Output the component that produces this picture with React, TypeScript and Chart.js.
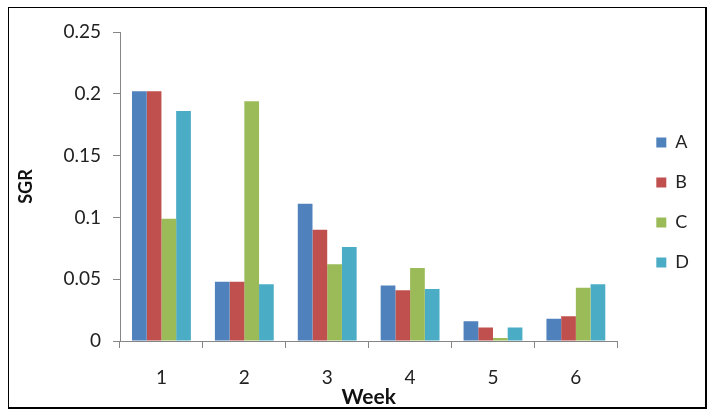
import React, { useEffect, useRef } from "react";
import { Chart, registerables } from "chart.js";

Chart.register(...registerables);

const weeks = ["1", "2", "3", "4", "5", "6"];
const seriesNames = ["A", "B", "C", "D"];
const seriesA = [0.202, 0.048, 0.111, 0.045, 0.016, 0.018];
const seriesB = [0.202, 0.048, 0.09, 0.041, 0.011, 0.02];
const seriesC = [0.099, 0.194, 0.062, 0.059, 0.0025, 0.043];
const seriesD = [0.186, 0.046, 0.076, 0.042, 0.011, 0.046];
const seriesColors = ["#4F81BD", "#C0504D", "#9BBB59", "#4BACC6"];
const yMin = 0;
const yMax = 0.25;
const yStep = 0.05;
const xTitle = "Week";
const yTitle = "SGR";

const FONT = "Lato, 'Open Sans', sans-serif";
const TEXT = "#222";
const AXIS = "#868686";

const legendShift = {
  id: "legendShift",
  afterLayout(chart: any) {
    const l = chart.legend;
    if (!l) return;
    const dx = 17;
    const dy = 16;
    l.left += dx;
    l.right += dx;
    l.top += dy;
    l.bottom += dy;
  },
};

export default function App() {
  const canvasRef = useRef<HTMLCanvasElement | null>(null);

  useEffect(() => {
    if (!canvasRef.current) return;
    const values = [seriesA, seriesB, seriesC, seriesD];
    const chart = new Chart(canvasRef.current, {
      type: "bar",
      data: {
        labels: weeks,
        datasets: seriesNames.map((name, i) => ({
          label: name,
          data: values[i],
          backgroundColor: seriesColors[i],
          borderWidth: 0,
          barPercentage: 1,
          categoryPercentage: 0.71,
        })),
      },
      options: {
        animation: false,
        responsive: true,
        maintainAspectRatio: false,
        layout: { padding: { top: 32, right: 37, bottom: 0, left: 0 } },
        plugins: {
          tooltip: { enabled: false },
          legend: {
            position: "right",
            fullSize: false,
            labels: {
              boxWidth: 10,
              boxHeight: 10,
              padding: 22,
              color: TEXT,
              font: { family: FONT, size: 18 },
            },
          },
        },
        scales: {
          x: {
            grid: {
              display: true,
              drawOnChartArea: false,
              drawTicks: true,
              tickLength: 7,
              color: AXIS,
              offset: true,
            },
            border: { display: true, color: AXIS, width: 1 },
            ticks: {
              color: TEXT,
              padding: 18,
              font: { family: FONT, size: 19 },
              maxRotation: 0,
            },
            title: {
              display: true,
              text: xTitle,
              color: "#111",
              font: { family: FONT, size: 21, weight: "bold" },
              padding: { top: 0, bottom: 3 },
            },
            afterFit(scale: any) {
              scale.height = 72;
            },
          },
          y: {
            min: yMin,
            max: yMax,
            grid: {
              display: true,
              drawOnChartArea: false,
              drawTicks: true,
              tickLength: 7,
              color: AXIS,
            },
            border: { display: true, color: AXIS, width: 1 },
            ticks: {
              stepSize: yStep,
              color: TEXT,
              padding: 12,
              font: { family: FONT, size: 19 },
              callback: (v: any) => String(parseFloat(Number(v).toFixed(2))),
            },
            title: {
              display: true,
              text: yTitle,
              color: "#111",
              font: { family: FONT, size: 18, weight: "bold" },
              padding: { top: 15, bottom: 0 },
            },
            afterFit(scale: any) {
              scale.width = 120;
            },
          },
        },
      },
      plugins: [legendShift],
    });
    return () => chart.destroy();
  }, []);

  return (
    <div style={{ position: "fixed", left: 0, top: 0, width: 719, height: 413, background: "#fff" }}>
      <canvas ref={canvasRef} />
      <div
        style={{
          position: "absolute",
          left: 8,
          top: 7,
          width: 699,
          height: 402,
          boxSizing: "border-box",
          border: "1.5px solid #000",
          borderRightWidth: 2,
          borderBottomWidth: 2,
          pointerEvents: "none",
        }}
      />
    </div>
  );
}
